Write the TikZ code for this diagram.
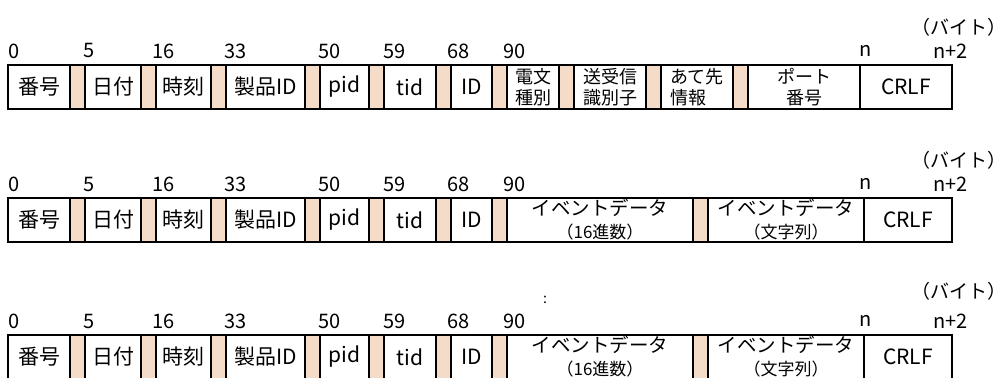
\documentclass[tikz,border=0pt]{standalone}
\usepackage{fontspec}
\setmainfont{Noto Sans CJK JP}
\usetikzlibrary{positioning}
\definecolor{padfill}{RGB}{245,220,200}

\begin{document}
\begin{tikzpicture}[
    x=1pt, y=-1pt,
    cell/.style={draw, line width=1.5pt, minimum height=44pt, inner sep=0pt, outer sep=0pt,
        anchor=north west, font=\fontsize{21}{22}\selectfont},
    pad/.style={cell, fill=padfill, minimum width=15pt},
    twoline/.style={align=center, font=\fontsize{18}{20.5}\selectfont},
    evt/.style={align=center, font=\fontsize{19.5}{22}\selectfont},
    offset/.style={anchor=west, inner sep=0pt, font=\fontsize{20}{20}\selectfont},
    unit/.style={anchor=east, inner sep=0pt, font=\fontsize{19}{20}\selectfont}
]
\useasboundingbox (0,0) rectangle (1008,377);
\clip (0,0) rectangle (1008,377);

% first record
\foreach \x/\w/\txt [count=\i] in {8/62/番号, 85/56/日付, 156/55/時刻, 226/79/製品ID,
    320/49/pid, 384/52/tid, 451/41/ID, 860/92/CRLF}
  \node[cell, minimum width=\w pt] (r1f\i) at (\x,65) {\txt};
\node[cell, twoline, minimum width=52pt] (r1kind) at (507,65) {電文\\種別};
\node[cell, twoline, minimum width=72pt] (r1sender) at (574,65) {送受信\\識別子};
\node[cell, twoline, align=left, minimum width=72pt] (r1dest) at (661,65) {あて先\\情報};
\node[cell, twoline, minimum width=112pt] (r1port) at (748,65) {ポート\\番号};
\foreach \x [count=\i] in {70,141,211,305,369,436,492,559,646,733}
  \node[pad] (r1p\i) at (\x,65) {};

% event records
\foreach \r/\y in {2/198, 3/335} {
  \foreach \x/\w/\txt [count=\i] in {8/62/番号, 85/56/日付, 156/55/時刻, 226/79/製品ID,
      320/49/pid, 384/52/tid, 451/41/ID, 864/88/CRLF}
    \node[cell, minimum width=\w pt] (r\r f\i) at (\x,\y) {\txt};
  \node[cell, evt, minimum width=186pt] (r\r hex) at (507,\y)
    {イベントデータ\\[1pt]{\fontsize{17}{22}\selectfont （16進数）}};
  \node[cell, evt, minimum width=156pt] (r\r str) at (708,\y)
    {イベントデータ\\[1pt]{\fontsize{17}{22}\selectfont （文字列）}};
  \foreach \x [count=\i] in {70,141,211,305,369,436,492,693}
    \node[pad] (r\r p\i) at (\x,\y) {};
}

% byte offsets
\foreach \y [count=\r] in {65,198,335}
  \foreach \x/\lab in {8/0, 83/5, 152/16, 224/33, 318/50, 383/59, 447/68, 503/90, 859/n, 933/n+2}
    \node[offset] (r\r o\x) at (\x,\y-14) {\lab};

\node[unit] (r1unit) at (1007,27) {（バイト）};
\node[unit] (r2unit) at (1007,160) {（バイト）};
\node[unit] (r3unit) at (1007,291) {（バイト）};
\node[inner sep=0pt, font=\fontsize{14}{14}\selectfont] (more) at (545,300) {:};

\end{tikzpicture}
\end{document}
